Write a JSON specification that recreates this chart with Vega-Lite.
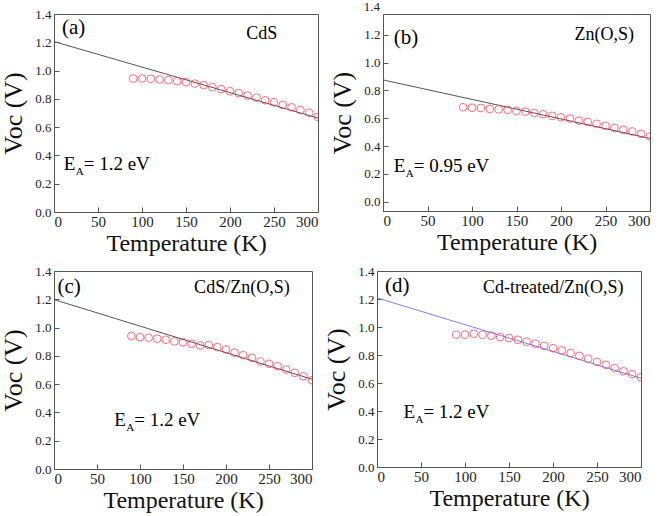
{
  "$schema": "https://vega.github.io/schema/vega-lite/v6.json",
  "padding": {"left": 0, "top": 0, "right": 5, "bottom": 3},
  "background": "white",
  "config": {
    "font": "Liberation Serif",
    "view": {"stroke": "#555", "strokeWidth": 1},
    "concat": {"spacing": 8},
    "axis": {
      "domainColor": "#555",
      "tickColor": "#555",
      "grid": false,
      "labelColor": "#222",
      "titleColor": "#111",
      "titleFontWeight": "normal",
      "labelOverlap": false,
      "tickSize": {"condition": {"test": "datum.label !== ''", "value": -5}, "value": -3}
    },
    "axisX": {
      "values": [0, 10, 20, 30, 40, 50, 60, 70, 80, 90, 100, 110, 120, 130, 140, 150, 160, 170, 180, 190, 200, 210, 220, 230, 240, 250, 260, 270, 280, 290, 300],
      "labelExpr": "datum.value % 50 === 0 ? datum.label : ''",
      "labelFontSize": 15,
      "labelPadding": 7,
      "titleFontSize": 24,
      "titlePadding": 2
    },
    "axisY": {
      "values": [0, 0.05, 0.1, 0.15, 0.2, 0.25, 0.3, 0.35, 0.4, 0.45, 0.5, 0.55, 0.6, 0.65, 0.7, 0.75, 0.8, 0.85, 0.9, 0.95, 1.0, 1.05, 1.1, 1.15, 1.2, 1.25, 1.3, 1.35, 1.4],
      "format": ".1f",
      "labelExpr": "round(datum.value * 100) % 20 === 0 ? datum.label : ''",
      "labelFontSize": 13,
      "labelPadding": 8,
      "titleFontSize": 26,
      "titlePadding": 8
    }
  },
  "datasets": {
    "pts": [
      {"panel": "a", "T": 90, "V": 0.944}, {"panel": "a", "T": 100, "V": 0.944}, {"panel": "a", "T": 110, "V": 0.942}, {"panel": "a", "T": 120, "V": 0.937}, {"panel": "a", "T": 130, "V": 0.933}, {"panel": "a", "T": 140, "V": 0.925}, {"panel": "a", "T": 150, "V": 0.918}, {"panel": "a", "T": 160, "V": 0.908}, {"panel": "a", "T": 170, "V": 0.897}, {"panel": "a", "T": 180, "V": 0.883}, {"panel": "a", "T": 190, "V": 0.869}, {"panel": "a", "T": 200, "V": 0.854}, {"panel": "a", "T": 210, "V": 0.84}, {"panel": "a", "T": 220, "V": 0.823}, {"panel": "a", "T": 230, "V": 0.809}, {"panel": "a", "T": 240, "V": 0.79}, {"panel": "a", "T": 250, "V": 0.776}, {"panel": "a", "T": 260, "V": 0.757}, {"panel": "a", "T": 270, "V": 0.74}, {"panel": "a", "T": 280, "V": 0.721}, {"panel": "a", "T": 290, "V": 0.702}, {"panel": "a", "T": 300, "V": 0.672},
      {"panel": "b", "T": 90, "V": 0.679}, {"panel": "b", "T": 100, "V": 0.676}, {"panel": "b", "T": 110, "V": 0.674}, {"panel": "b", "T": 120, "V": 0.667}, {"panel": "b", "T": 130, "V": 0.664}, {"panel": "b", "T": 140, "V": 0.66}, {"panel": "b", "T": 150, "V": 0.652}, {"panel": "b", "T": 160, "V": 0.648}, {"panel": "b", "T": 170, "V": 0.638}, {"panel": "b", "T": 180, "V": 0.629}, {"panel": "b", "T": 190, "V": 0.617}, {"panel": "b", "T": 200, "V": 0.607}, {"panel": "b", "T": 210, "V": 0.598}, {"panel": "b", "T": 220, "V": 0.583}, {"panel": "b", "T": 230, "V": 0.574}, {"panel": "b", "T": 240, "V": 0.56}, {"panel": "b", "T": 250, "V": 0.545}, {"panel": "b", "T": 260, "V": 0.531}, {"panel": "b", "T": 270, "V": 0.517}, {"panel": "b", "T": 280, "V": 0.505}, {"panel": "b", "T": 290, "V": 0.488}, {"panel": "b", "T": 300, "V": 0.469},
      {"panel": "c", "T": 90, "V": 0.94}, {"panel": "c", "T": 100, "V": 0.932}, {"panel": "c", "T": 110, "V": 0.928}, {"panel": "c", "T": 120, "V": 0.921}, {"panel": "c", "T": 130, "V": 0.914}, {"panel": "c", "T": 140, "V": 0.902}, {"panel": "c", "T": 150, "V": 0.895}, {"panel": "c", "T": 160, "V": 0.885}, {"panel": "c", "T": 170, "V": 0.873}, {"panel": "c", "T": 180, "V": 0.876}, {"panel": "c", "T": 190, "V": 0.862}, {"panel": "c", "T": 200, "V": 0.845}, {"panel": "c", "T": 210, "V": 0.822}, {"panel": "c", "T": 220, "V": 0.805}, {"panel": "c", "T": 230, "V": 0.786}, {"panel": "c", "T": 240, "V": 0.76}, {"panel": "c", "T": 250, "V": 0.744}, {"panel": "c", "T": 260, "V": 0.727}, {"panel": "c", "T": 270, "V": 0.703}, {"panel": "c", "T": 280, "V": 0.68}, {"panel": "c", "T": 290, "V": 0.656}, {"panel": "c", "T": 300, "V": 0.628},
      {"panel": "d", "T": 90, "V": 0.945}, {"panel": "d", "T": 100, "V": 0.945}, {"panel": "d", "T": 110, "V": 0.952}, {"panel": "d", "T": 120, "V": 0.945}, {"panel": "d", "T": 130, "V": 0.938}, {"panel": "d", "T": 140, "V": 0.928}, {"panel": "d", "T": 150, "V": 0.921}, {"panel": "d", "T": 160, "V": 0.909}, {"panel": "d", "T": 170, "V": 0.895}, {"panel": "d", "T": 180, "V": 0.881}, {"panel": "d", "T": 190, "V": 0.866}, {"panel": "d", "T": 200, "V": 0.849}, {"panel": "d", "T": 210, "V": 0.833}, {"panel": "d", "T": 220, "V": 0.814}, {"panel": "d", "T": 230, "V": 0.794}, {"panel": "d", "T": 240, "V": 0.773}, {"panel": "d", "T": 250, "V": 0.751}, {"panel": "d", "T": 260, "V": 0.73}, {"panel": "d", "T": 270, "V": 0.706}, {"panel": "d", "T": 280, "V": 0.684}, {"panel": "d", "T": 290, "V": 0.663}, {"panel": "d", "T": 300, "V": 0.641}
    ],
    "fit": [
      {"panel": "a", "T": 0, "V": 1.205}, {"panel": "a", "T": 300, "V": 0.664},
      {"panel": "b", "T": 0, "V": 0.876}, {"panel": "b", "T": 300, "V": 0.455},
      {"panel": "c", "T": 0, "V": 1.198}, {"panel": "c", "T": 300, "V": 0.635},
      {"panel": "d", "T": 0, "V": 1.208}, {"panel": "d", "T": 300, "V": 0.634}
    ],
    "one": [{}]
  },
  "vconcat": [
    {
      "hconcat": [
        {
          "width": 264, "height": 198,
          "layer": [
            {"data": {"name": "fit"}, "transform": [{"filter": "datum.panel === 'a'"}], "mark": {"type": "line", "color": "#555", "strokeWidth": 1},
             "encoding": {"x": {"field": "T", "type": "quantitative", "scale": {"domain": [0, 300], "nice": false}, "axis": {"title": "Temperature (K)", "labelFont": "Liberation Serif", "titleFont": "Liberation Serif"}}, "y": {"field": "V", "type": "quantitative", "scale": {"domain": [0, 1.4], "nice": false}, "axis": {"title": "Voc (V)", "labelFont": "Liberation Serif", "titleFont": "Liberation Serif"}}}},
            {"data": {"name": "pts"}, "transform": [{"filter": "datum.panel === 'a'"}], "mark": {"type": "point", "shape": "circle", "size": 60, "stroke": "#ff2f45", "strokeWidth": 1, "filled": false, "clip": true},
             "encoding": {"x": {"field": "T", "type": "quantitative"}, "y": {"field": "V", "type": "quantitative"}}},
            {"data": {"name": "one"}, "mark": {"type": "text", "align": "left", "baseline": "middle", "fontSize": 21}, "encoding": {"x": {"datum": 9}, "y": {"datum": 1.3}, "text": {"value": "(a)"}}},
            {"data": {"name": "one"}, "mark": {"type": "text", "align": "center", "baseline": "middle", "fontSize": 18}, "encoding": {"x": {"datum": 236}, "y": {"datum": 1.26}, "text": {"value": "CdS"}}},
            {"data": {"name": "one"}, "mark": {"type": "text", "align": "left", "baseline": "middle", "fontSize": 19}, "encoding": {"x": {"datum": 11}, "y": {"datum": 0.34}, "text": {"value": "E"}}},
            {"data": {"name": "one"}, "mark": {"type": "text", "align": "left", "baseline": "middle", "fontSize": 11, "dx": 12, "dy": 8}, "encoding": {"x": {"datum": 11}, "y": {"datum": 0.34}, "text": {"value": "A"}}},
            {"data": {"name": "one"}, "mark": {"type": "text", "align": "left", "baseline": "middle", "fontSize": 19, "dx": 20}, "encoding": {"x": {"datum": 11}, "y": {"datum": 0.34}, "text": {"value": "= 1.2 eV"}}}
          ]
        },
        {
          "width": 267, "height": 197,
          "layer": [
            {"data": {"name": "fit"}, "transform": [{"filter": "datum.panel === 'b'"}], "mark": {"type": "line", "color": "#555", "strokeWidth": 1},
             "encoding": {"x": {"field": "T", "type": "quantitative", "scale": {"domain": [0, 300], "nice": false}, "axis": {"title": "Temperature (K)", "labelFont": "Liberation Serif", "titleFont": "Liberation Serif"}}, "y": {"field": "V", "type": "quantitative", "scale": {"domain": [-0.067, 1.35], "nice": false, "zero": false}, "axis": {"title": "Voc (V)", "labelFont": "Liberation Serif", "titleFont": "Liberation Serif"}}}},
            {"data": {"name": "pts"}, "transform": [{"filter": "datum.panel === 'b'"}], "mark": {"type": "point", "shape": "circle", "size": 60, "stroke": "#ff2f45", "strokeWidth": 1, "filled": false, "clip": true},
             "encoding": {"x": {"field": "T", "type": "quantitative"}, "y": {"field": "V", "type": "quantitative"}}},
            {"data": {"name": "one"}, "mark": {"type": "text", "align": "right", "baseline": "middle", "fontSize": 13, "dx": -3, "color": "#222"}, "encoding": {"x": {"datum": 0}, "y": {"datum": 1.4}, "text": {"value": "1.4"}}},
            {"data": {"name": "one"}, "mark": {"type": "text", "align": "left", "baseline": "middle", "fontSize": 21}, "encoding": {"x": {"datum": 12}, "y": {"datum": 1.18}, "text": {"value": "(b)"}}},
            {"data": {"name": "one"}, "mark": {"type": "text", "align": "right", "baseline": "middle", "fontSize": 18}, "encoding": {"x": {"datum": 282}, "y": {"datum": 1.2}, "text": {"value": "Zn(O,S)"}}},
            {"data": {"name": "one"}, "mark": {"type": "text", "align": "left", "baseline": "middle", "fontSize": 19}, "encoding": {"x": {"datum": 12}, "y": {"datum": 0.26}, "text": {"value": "E"}}},
            {"data": {"name": "one"}, "mark": {"type": "text", "align": "left", "baseline": "middle", "fontSize": 11, "dx": 12, "dy": 8}, "encoding": {"x": {"datum": 12}, "y": {"datum": 0.26}, "text": {"value": "A"}}},
            {"data": {"name": "one"}, "mark": {"type": "text", "align": "left", "baseline": "middle", "fontSize": 19, "dx": 20}, "encoding": {"x": {"datum": 12}, "y": {"datum": 0.26}, "text": {"value": "= 0.95 eV"}}}
          ]
        }
      ]
    },
    {
      "hconcat": [
        {
          "width": 258, "height": 198,
          "layer": [
            {"data": {"name": "fit"}, "transform": [{"filter": "datum.panel === 'c'"}], "mark": {"type": "line", "color": "#555", "strokeWidth": 1},
             "encoding": {"x": {"field": "T", "type": "quantitative", "scale": {"domain": [0, 300], "nice": false}, "axis": {"title": "Temperature (K)", "labelFont": "Liberation Serif", "titleFont": "Liberation Serif"}}, "y": {"field": "V", "type": "quantitative", "scale": {"domain": [0, 1.4], "nice": false}, "axis": {"title": "Voc (V)", "labelFont": "Liberation Serif", "titleFont": "Liberation Serif"}}}},
            {"data": {"name": "pts"}, "transform": [{"filter": "datum.panel === 'c'"}], "mark": {"type": "point", "shape": "circle", "size": 60, "stroke": "#ff2f45", "strokeWidth": 1, "filled": false, "clip": true},
             "encoding": {"x": {"field": "T", "type": "quantitative"}, "y": {"field": "V", "type": "quantitative"}}},
            {"data": {"name": "one"}, "mark": {"type": "text", "align": "left", "baseline": "middle", "fontSize": 21}, "encoding": {"x": {"datum": 4}, "y": {"datum": 1.29}, "text": {"value": "(c)"}}},
            {"data": {"name": "one"}, "mark": {"type": "text", "align": "right", "baseline": "middle", "fontSize": 18}, "encoding": {"x": {"datum": 274}, "y": {"datum": 1.28}, "text": {"value": "CdS/Zn(O,S)"}}},
            {"data": {"name": "one"}, "mark": {"type": "text", "align": "left", "baseline": "middle", "fontSize": 19}, "encoding": {"x": {"datum": 70}, "y": {"datum": 0.35}, "text": {"value": "E"}}},
            {"data": {"name": "one"}, "mark": {"type": "text", "align": "left", "baseline": "middle", "fontSize": 11, "dx": 12, "dy": 8}, "encoding": {"x": {"datum": 70}, "y": {"datum": 0.35}, "text": {"value": "A"}}},
            {"data": {"name": "one"}, "mark": {"type": "text", "align": "left", "baseline": "middle", "fontSize": 19, "dx": 20}, "encoding": {"x": {"datum": 70}, "y": {"datum": 0.35}, "text": {"value": "= 1.2 eV"}}}
          ]
        },
        {
          "width": 264, "height": 196,
          "layer": [
            {"data": {"name": "fit"}, "transform": [{"filter": "datum.panel === 'd'"}], "mark": {"type": "line", "color": "#7486ee", "strokeWidth": 1},
             "encoding": {"x": {"field": "T", "type": "quantitative", "scale": {"domain": [0, 300], "nice": false}, "axis": {"title": "Temperature (K)", "labelFont": "Liberation Serif", "titleFont": "Liberation Serif"}}, "y": {"field": "V", "type": "quantitative", "scale": {"domain": [0, 1.4], "nice": false}, "axis": {"title": "Voc (V)", "labelFont": "Liberation Serif", "titleFont": "Liberation Serif"}}}},
            {"data": {"name": "pts"}, "transform": [{"filter": "datum.panel === 'd'"}], "mark": {"type": "point", "shape": "circle", "size": 60, "stroke": "#ff2f45", "strokeWidth": 1, "filled": false, "clip": true},
             "encoding": {"x": {"field": "T", "type": "quantitative"}, "y": {"field": "V", "type": "quantitative"}}},
            {"data": {"name": "one"}, "mark": {"type": "text", "align": "left", "baseline": "middle", "fontSize": 21}, "encoding": {"x": {"datum": 9}, "y": {"datum": 1.29}, "text": {"value": "(d)"}}},
            {"data": {"name": "one"}, "mark": {"type": "text", "align": "right", "baseline": "middle", "fontSize": 18}, "encoding": {"x": {"datum": 280}, "y": {"datum": 1.28}, "text": {"value": "Cd-treated/Zn(O,S)"}}},
            {"data": {"name": "one"}, "mark": {"type": "text", "align": "left", "baseline": "middle", "fontSize": 19}, "encoding": {"x": {"datum": 30}, "y": {"datum": 0.395}, "text": {"value": "E"}}},
            {"data": {"name": "one"}, "mark": {"type": "text", "align": "left", "baseline": "middle", "fontSize": 11, "dx": 12, "dy": 8}, "encoding": {"x": {"datum": 30}, "y": {"datum": 0.395}, "text": {"value": "A"}}},
            {"data": {"name": "one"}, "mark": {"type": "text", "align": "left", "baseline": "middle", "fontSize": 19, "dx": 20}, "encoding": {"x": {"datum": 30}, "y": {"datum": 0.395}, "text": {"value": "= 1.2  eV"}}}
          ]
        }
      ]
    }
  ]
}
